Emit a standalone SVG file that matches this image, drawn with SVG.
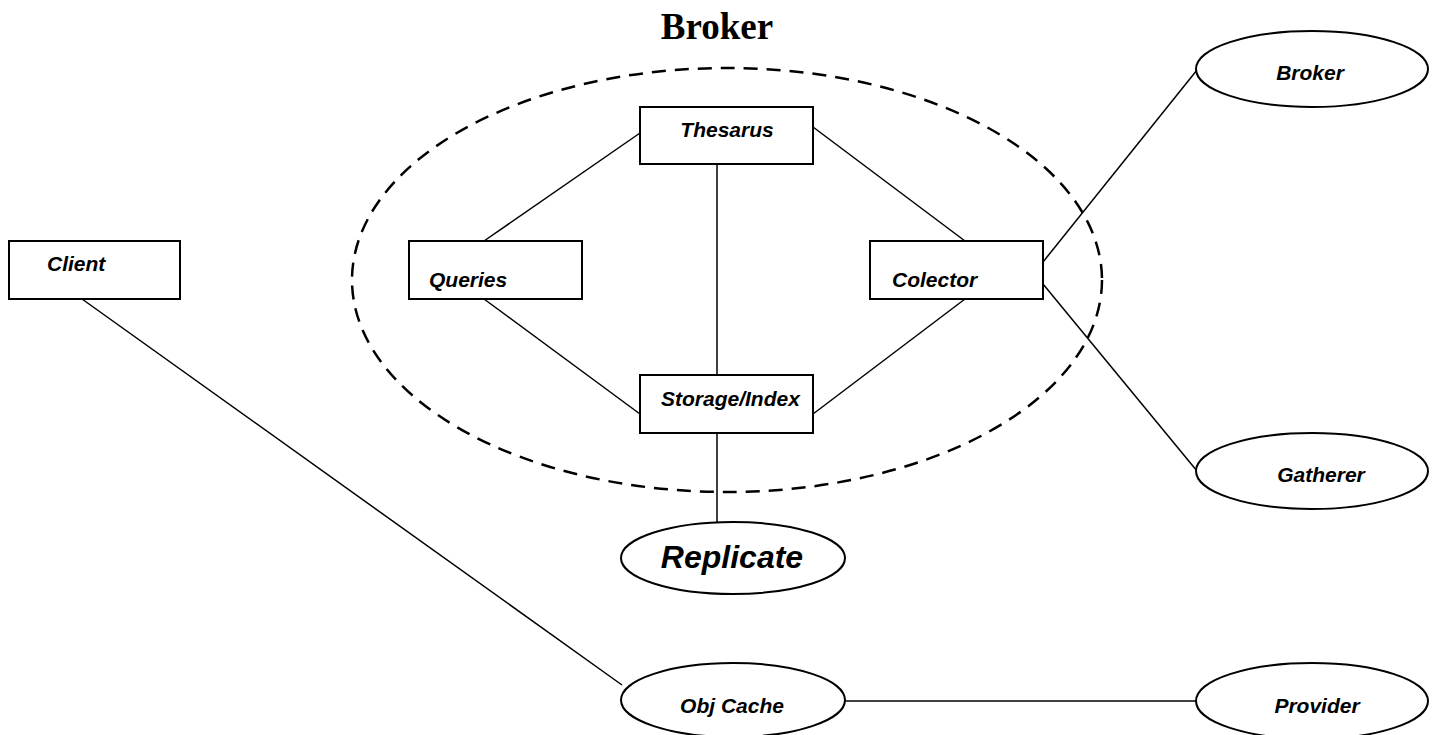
<svg xmlns="http://www.w3.org/2000/svg" width="1434" height="735" viewBox="0 0 1434 735">
<style>
.box{fill:#fff;stroke:#000;stroke-width:2}
.ell{fill:#fff;stroke:#000;stroke-width:2}
.lbl{font-family:"Liberation Sans",Arial,sans-serif;font-weight:bold;font-style:italic;font-size:21px;fill:#000}
.big{font-size:32px}
.ln{stroke:#000;stroke-width:1.5;fill:none}
</style>
<rect width="1434" height="735" fill="#fff"/>
<text x="717" y="39" text-anchor="middle" font-family="Liberation Serif,'Times New Roman',serif" font-weight="bold" font-size="37">Broker</text>
<ellipse id="broker-boundary" cx="727" cy="280" rx="375" ry="212" fill="none" stroke="#000" stroke-width="2.5" stroke-dasharray="14,9"/>
<g id="connectors">
<line class="ln" x1="640" y1="133" x2="484" y2="241"/>
<line class="ln" x1="813" y1="127" x2="965" y2="241"/>
<line class="ln" x1="717" y1="164" x2="717" y2="375"/>
<line class="ln" x1="484" y1="299" x2="640" y2="414"/>
<line class="ln" x1="965" y1="299" x2="813" y2="414"/>
<line class="ln" x1="717" y1="433" x2="717" y2="530"/>
<line class="ln" x1="1043" y1="262" x2="1197" y2="70"/>
<line class="ln" x1="1043" y1="284" x2="1197" y2="471"/>
<line class="ln" x1="82" y1="299" x2="622" y2="685"/>
<line class="ln" x1="845" y1="701" x2="1196" y2="701"/>
</g>
<g id="client"><rect class="box" x="9" y="241" width="171" height="58"/><text class="lbl" x="47" y="271">Client</text></g>
<g id="thesarus"><rect class="box" x="640" y="107" width="173" height="57"/><text class="lbl" x="727" y="137" text-anchor="middle">Thesarus</text></g>
<g id="queries"><rect class="box" x="409" y="241" width="173" height="58"/><text class="lbl" x="429" y="287">Queries</text></g>
<g id="colector"><rect class="box" x="870" y="241" width="173" height="58"/><text class="lbl" x="892" y="287">Colector</text></g>
<g id="storage"><rect class="box" x="640" y="375" width="173" height="58"/><text class="lbl" x="661" y="406">Storage/Index</text></g>
<g id="replicate"><ellipse class="ell" cx="733" cy="558" rx="112" ry="36"/><text class="lbl big" x="732" y="568" text-anchor="middle">Replicate</text></g>
<g id="broker"><ellipse class="ell" cx="1312" cy="69" rx="116" ry="38"/><text class="lbl" x="1310" y="80" text-anchor="middle">Broker</text></g>
<g id="gatherer"><ellipse class="ell" cx="1312" cy="471" rx="116" ry="38"/><text class="lbl" x="1321" y="482" text-anchor="middle">Gatherer</text></g>
<g id="objcache"><ellipse class="ell" cx="733" cy="700" rx="112" ry="37"/><text class="lbl" x="732" y="713" text-anchor="middle">Obj Cache</text></g>
<g id="provider"><ellipse class="ell" cx="1312" cy="701" rx="116" ry="38"/><text class="lbl" x="1317" y="713" text-anchor="middle">Provider</text></g>
</svg>
